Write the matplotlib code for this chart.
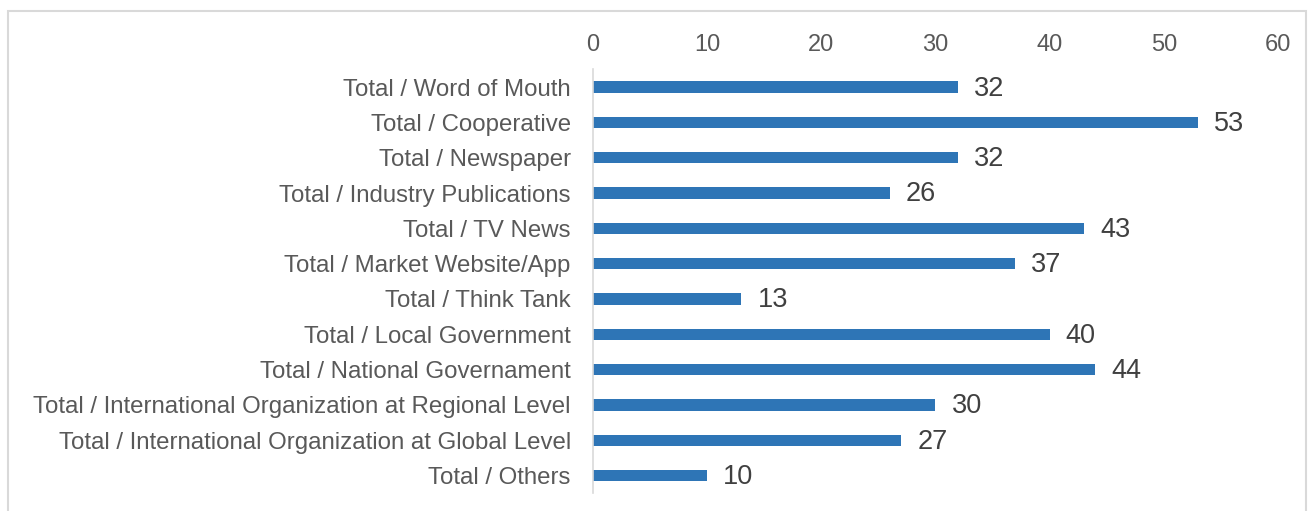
import matplotlib
matplotlib.use("Agg")
import matplotlib.pyplot as plt
from matplotlib.patches import Rectangle

categories = [
    "Total / Word of Mouth",
    "Total / Cooperative",
    "Total / Newspaper",
    "Total / Industry Publications",
    "Total / TV News",
    "Total / Market Website/App",
    "Total / Think Tank",
    "Total / Local Government",
    "Total / National Governament",
    "Total / International Organization at Regional Level",
    "Total / International Organization at Global Level",
    "Total / Others",
]
values = [32, 53, 32, 26, 43, 37, 13, 40, 44, 30, 27, 10]
xticks = [0, 10, 20, 30, 40, 50, 60]

plt.rcParams['font.family'] = ['Liberation Sans', 'DejaVu Sans']

fig = plt.figure(figsize=(13.09, 5.11), dpi=100)
ax = fig.add_axes([0.453, 0.035, 0.9763 - 0.453, 0.864 - 0.035])

# outer chart frame
fig.patches.append(Rectangle((8 / 1309, -0.05), (1306 - 8) / 1309, (511 - 11) / 511 + 0.05,
                             transform=fig.transFigure, fill=False,
                             edgecolor="#D9D9D9", linewidth=1.5))

ypos = list(range(len(categories)))
ax.barh(ypos, values, height=0.32, color="#2E75B6")
for y, v in zip(ypos, values):
    ax.text(v + 1.4, y + 0.04, str(v), va="center", ha="left", fontsize=19.5, color="#404040")

ax.set_ylim(len(categories) - 0.5, -0.5)
ax.set_xlim(0, 60)
ax.set_xticks(xticks)
ax.xaxis.tick_top()
ax.tick_params(axis="x", length=0, labelsize=17, labelcolor="#595959", pad=10)
ax.set_yticks(ypos)
ax.set_yticklabels(categories)
ax.tick_params(axis="y", length=0, labelsize=17.3, labelcolor="#595959", pad=16)

for s in ["top", "right", "bottom"]:
    ax.spines[s].set_visible(False)
ax.spines["left"].set_color("#D9D9D9")
ax.spines["left"].set_linewidth(1.2)

fig.savefig("out.png", dpi=100)
